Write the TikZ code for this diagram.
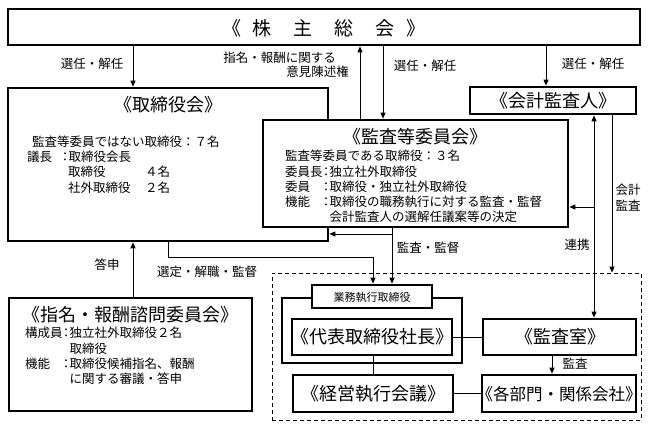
\documentclass[tikz,border=0pt]{standalone}
\usepackage{fontspec}
\setmainfont{Noto Sans CJK JP}
\usetikzlibrary{arrows.meta,fit}
\begin{document}
\begin{tikzpicture}[x=1pt,y=-1pt,
  box/.style={draw, line width=2.7pt, fill=white, inner sep=0pt},
  conn/.style={line width=0.9pt},
  arr/.style={conn, -{Triangle[length=6pt,width=5pt]}},
  darr/.style={conn, {Triangle[length=6pt,width=5pt]}-{Triangle[length=6pt,width=5pt]}},
  txt/.style={inner sep=0pt, font=\fontsize{12.5}{14}\selectfont},
  ttl/.style={inner sep=0pt, font=\fontsize{18}{20}\selectfont},
]
\fill[white] (0,0) rectangle (648,426);
\useasboundingbox (0,0) rectangle (648,426);

% columns / rows for connectors
\coordinate (cA) at (133,0);
\coordinate (cB) at (360,0);
\coordinate (cC) at (383,0);
\coordinate (cD) at (546,0);
\coordinate (cE) at (594,0);
\coordinate (cF) at (612,0);
\coordinate (cG) at (392,0);
\coordinate (cH) at (168,0);
\coordinate (cI) at (373,0);
\coordinate (cJ) at (552,0);
\coordinate (rK) at (0,207);
\coordinate (rL) at (0,234);
\coordinate (rM) at (0,257);

% boxes
\node[box, fit={(8,9)(640,45)}] (shm) {};
\node[box, fit={(8,88)(328,241)}] (tor) {};
\node[box, fit={(263,120)(568,227)}] (kan) {};
\node[box, fit={(470,87)(636,114)}] (kai) {};
\node[box, fit={(9,298)(252,411)}] (shimei) {};
\node[draw, dash pattern=on 4pt off 3pt, line width=0.9pt, inner sep=0pt, fit={(272,273)(641,420)}] (dash) {};
\node[box, fit={(282,298)(462,363)}] (grp) {};
\node[box, fit={(312,285)(432,308)}] (gyomu) {};
\node[box, fit={(292,319)(452,355)}] (daihyo) {};
\node[box, fit={(483,319)(636,355)}] (kansa) {};
\node[box, fit={(293,375)(453,412)}] (keiei) {};
\node[box, fit={(482,375)(636,412)}] (kakubu) {};

% titles
\node[ttl, font=\fontsize{19}{21}\selectfont] (shmT) at (324,28) {《\hspace{12pt}株\hspace{22pt}主\hspace{22pt}総\hspace{22pt}会\hspace{12pt}》};
\node[ttl] (torT) at (168,105) {《取締役会》};
\node[ttl] (kanT) at (415,137) {《監査等委員会》};
\node[ttl] (kaiT) at (553,101) {《会計監査人》};
\node[ttl] (shimeiT) at (130,315) {《指名・報酬諮問委員会》};
\node[inner sep=0pt, font=\fontsize{11}{12}\selectfont] (gyomuT) at (372,297) {業務執行取締役};
\node[ttl] (daihyoT) at (372,337) {《代表取締役社長》};
\node[ttl] (kansaT) at (560,337) {《監査室》};
\node[ttl] (keieiT) at (373,394) {《経営執行会議》};
\node[ttl, font=\fontsize{16.5}{18}\selectfont] (kakubuT) at (559,394) {《各部門・関係会社》};

% body text
\node[txt, anchor=west] (torL1) at (32,142) {監査等委員ではない取締役：７名};
\node[txt, anchor=west] (torL2) at (27,157) {\makebox[34.5pt][l]{議長}\makebox[7pt][c]{：}取締役会長};
\node[txt, anchor=west] (torL3) at (68,172) {\makebox[77pt][l]{取締役}４名};
\node[txt, anchor=west] (torL4) at (68,188) {\makebox[77pt][l]{社外取締役}２名};

\node[txt, anchor=west] (kanL1) at (285,156) {監査等委員である取締役：３名};
\node[txt, anchor=west] (kanL2) at (285,172) {\makebox[37.5pt][l]{委員長}\makebox[7pt][c]{：}独立社外取締役};
\node[txt, anchor=west] (kanL3) at (285,187) {\makebox[37.5pt][l]{委員}\makebox[7pt][c]{：}取締役・独立社外取締役};
\node[txt, anchor=west] (kanL4) at (285,202) {\makebox[37.5pt][l]{機能}\makebox[7pt][c]{：}取締役の職務執行に対する監査・監督};
\node[txt, anchor=west] (kanL5) at (329.5,217) {会計監査人の選解任議案等の決定};

\node[txt, anchor=west] (shL1) at (25,333) {\makebox[37.5pt][l]{構成員}\makebox[7pt][c]{：}独立社外取締役２名};
\node[txt, anchor=west] (shL2) at (69.5,349) {取締役};
\node[txt, anchor=west] (shL3) at (25,364) {\makebox[37.5pt][l]{機能}\makebox[7pt][c]{：}取締役候補指名、報酬};
\node[txt, anchor=west] (shL4) at (69.5,379) {に関する審議・答申};

% connector labels
\node[txt] (l1) at (92,64) {選任・解任};
\node[txt] (l2) at (425,66) {選任・解任};
\node[txt] (l3) at (593,64) {選任・解任};
\node[txt, anchor=east] (l4) at (336,58) {指名・報酬に関する};
\node[txt, anchor=east] (l5) at (349,72) {意見陳述権};
\node[txt] (l6) at (628,190) {会計};
\node[txt] (l7) at (628,206) {監査};
\node[txt] (l8) at (577,245) {連携};
\node[txt] (l9) at (428,248) {監査・監督};
\node[txt] (l10) at (107,265) {答申};
\node[txt] (l11) at (207,272) {選定・解職・監督};
\node[txt] (l12) at (575,364) {監査};

% connectors
\draw[arr] (shm.south -| cA) -- (tor.north -| cA);
\draw[arr] (kan.north -| cB) -- (shm.south -| cB);
\draw[arr] (shm.south -| cC) -- (kan.north -| cC);
\draw[arr] (shm.south -| cD) -- (kai.north -| cD);
\draw[darr] (kai.south -| cE) -- (kansa.north -| cE);
\draw[arr] (cE |- rK) -- (kan.east |- rK);
\draw[arr] (kai.south -| cF) -- (dash.north -| cF);
\draw[arr] (kan.south -| cG) -- (gyomu.north -| cG);
\draw[arr] (cG |- rL) -- (tor.east |- rL);
\draw[arr] (tor.south -| cH) -- (cH |- rM) -- (cI |- rM) -- (gyomu.north -| cI);
\draw[arr] (shimei.north -| cA) -- (tor.south -| cA);
\draw[conn] (daihyo.east) -- (kansa.west |- daihyo.east);
\draw[conn] (daihyo.south -| cI) -- (keiei.north -| cI);
\draw[conn] (keiei.east) -- (kakubu.west |- keiei.east);
\draw[arr] (kansa.south -| cJ) -- (kakubu.north -| cJ);
\end{tikzpicture}
\end{document}
